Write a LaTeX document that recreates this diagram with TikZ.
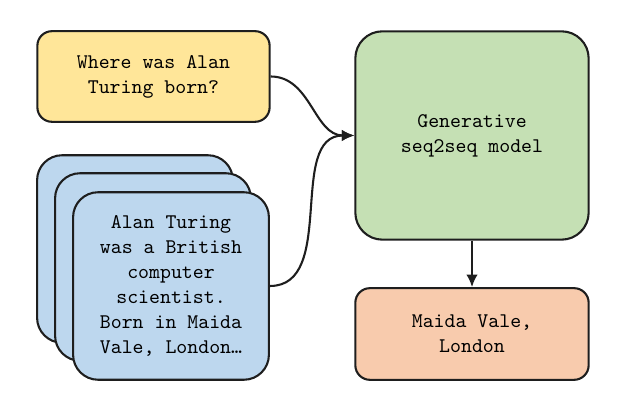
\documentclass[tikz,border=0pt]{standalone}
\usepackage{fontspec}
\usetikzlibrary{arrows.meta,positioning}
\definecolor{querycol}{RGB}{255,230,153}
\definecolor{doccol}{RGB}{189,215,238}
\definecolor{modelcol}{RGB}{197,224,180}
\definecolor{answercol}{RGB}{248,203,173}
\definecolor{edgecol}{RGB}{30,30,30}
\tikzset{
  box/.style={draw=edgecol,line width=1pt,align=center,font=\ttfamily,inner sep=0pt},
  querybox/.style={box,fill=querycol,rounded corners=7pt,
                   minimum width=111.5pt,minimum height=43.5pt},
  docbox/.style={box,fill=doccol,rounded corners=12pt,
                 minimum width=94pt,minimum height=90pt},
  modelbox/.style={box,fill=modelcol,rounded corners=13pt,
                   minimum width=112pt,minimum height=100pt},
  answerbox/.style={box,fill=answercol,rounded corners=7pt,
                    minimum width=112pt,minimum height=44pt},
  conn/.style={-{Latex[length=6pt,width=5.5pt]},draw=edgecol,line width=1pt},
}
\begin{document}
\begin{tikzpicture}[x=0.48pt,y=-0.48pt]
  \useasboundingbox (0,0) rectangle (619,409);
  % inputs
  \node[querybox] (query) at (153.5,76.5) {Where was Alan\\Turing born?};
  \node[docbox] (doc3) at (135,249) {};
  \node[docbox] (doc2) at (153,267) {};
  \node[docbox] (doc1) at (171,286) {Alan Turing\\was a British\\computer\\scientist.\\Born in Maida\\Vale, London…};
  % model and output
  \node[modelbox] (model) at (472,135.5) {Generative\\seq2seq model};
  \node[answerbox] (answer) at (472,334) {Maida Vale,\\London};
  % connectors
  \draw[conn] (query.east) to[out=0,in=180] (model.west);
  \draw[conn] (doc1.east) to[out=0,in=180] (model.west);
  \draw[conn] (model) -- (answer);
\end{tikzpicture}
\end{document}
